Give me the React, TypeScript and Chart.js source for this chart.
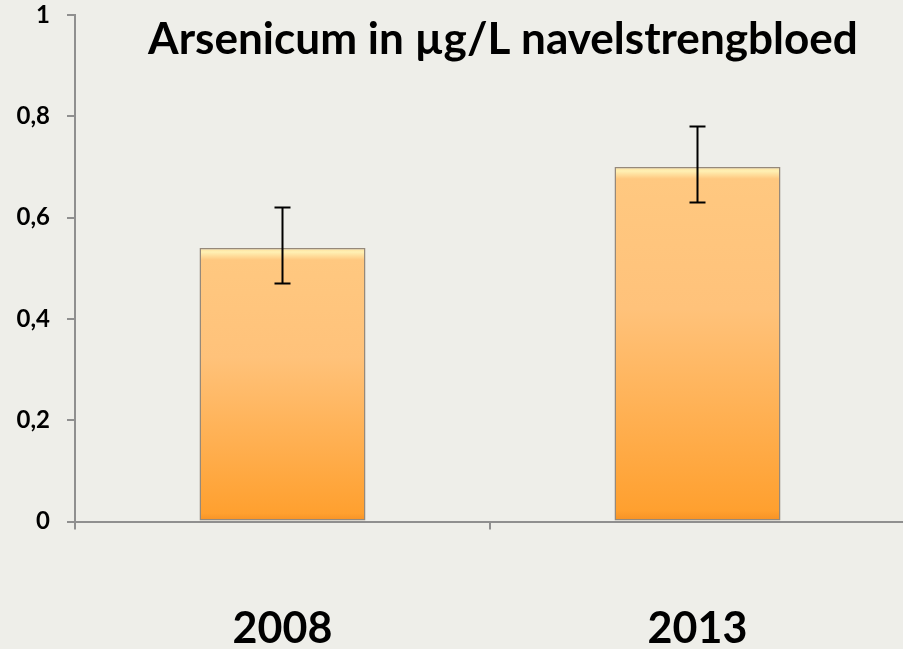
import React, { useEffect, useRef } from "react";
import { Chart, registerables } from "chart.js";

Chart.register(...registerables);

const categories = ["2008", "2013"];
const values = [0.54, 0.7];
const errLow = [0.47, 0.63];
const errHigh = [0.62, 0.78];
const yTickValues = [0, 0.2, 0.4, 0.6, 0.8, 1];
const yTickLabels = ["0", "0,2", "0,4", "0,6", "0,8", "1"];
const titleText = "Arsenicum in µg/L navelstrengbloed";

const AXIS_GRAY = "#8f8f8f";
const BG = "#eeeee9";

const titlePlugin = {
  id: "customTitle",
  afterDraw(chart: any) {
    const ctx = chart.ctx;
    ctx.save();
    const target = 710;
    ctx.font = "bold 40px Lato";
    const w = ctx.measureText(titleText).width;
    const size = (40 * target) / w;
    ctx.font = `bold ${size.toFixed(2)}px Lato`;
    ctx.fillStyle = "#000";
    ctx.textAlign = "center";
    ctx.textBaseline = "alphabetic";
    ctx.fillText(titleText, 503, 54);
    ctx.restore();
  },
};

const errorBarPlugin = {
  id: "errorBars",
  afterDatasetsDraw(chart: any) {
    const ctx = chart.ctx;
    const meta = chart.getDatasetMeta(0);
    const y = chart.scales.y;
    ctx.save();
    ctx.strokeStyle = "#000";
    ctx.lineWidth = 2;
    meta.data.forEach((bar: any, i: number) => {
      const x = bar.x;
      const yHi = y.getPixelForValue(errHigh[i]);
      const yLo = y.getPixelForValue(errLow[i]);
      const cap = 8;
      ctx.beginPath();
      ctx.moveTo(x, yHi);
      ctx.lineTo(x, yLo);
      ctx.moveTo(x - cap, yHi);
      ctx.lineTo(x + cap, yHi);
      ctx.moveTo(x - cap, yLo);
      ctx.lineTo(x + cap, yLo);
      ctx.stroke();
    });
    ctx.restore();
  },
};

export default function App() {
  const ref = useRef<HTMLCanvasElement | null>(null);

  useEffect(() => {
    if (!ref.current) return;
    const chart = new Chart(ref.current, {
      type: "bar",
      data: {
        labels: categories,
        datasets: [
          {
            data: values,
            backgroundColor: (c: any) => {
              const ch = c.chart;
              const ys = ch.scales && ch.scales.y;
              if (!ys || !ch.chartArea || c.raw == null) return "#ffb050";
              const top = ys.getPixelForValue(c.raw);
              const bottom = ys.getPixelForValue(0);
              const h = Math.max(bottom - top, 1);
              const g = ch.ctx.createLinearGradient(0, top, 0, bottom);
              g.addColorStop(0, "#ffdc96");
              g.addColorStop(Math.min(4 / h, 1), "#fff1b4");
              g.addColorStop(Math.min(12 / h, 1), "#ffc880");
              g.addColorStop(0.4, "#ffc27a");
              g.addColorStop(0.97, "#ffa02f");
              g.addColorStop(1, "#f59024");
              return g;
            },
            borderColor: "rgba(140,125,110,0.9)",
            borderWidth: 1.5,
            borderSkipped: false,
            barPercentage: 0.4,
            categoryPercentage: 1,
          },
        ],
      },
      options: {
        responsive: false,
        animation: false,
        devicePixelRatio: 1,
        layout: { padding: { top: 15, right: 5, left: 0, bottom: 0 } },
        plugins: {
          legend: { display: false },
          tooltip: { enabled: false },
          title: { display: false },
        },
        scales: {
          x: {
            offset: true,
            grid: {
              offset: true,
              drawOnChartArea: false,
              drawTicks: true,
              tickLength: 8,
              color: AXIS_GRAY,
              lineWidth: 2,
            },
            border: { display: true, color: AXIS_GRAY, width: 2 },
            ticks: {
              color: "#000",
              font: { family: "Lato", weight: "bold", size: 43 },
              padding: 74,
            },
            afterFit: (s: any) => {
              s.height = 649 - 521.5;
            },
          },
          y: {
            min: 0,
            max: 1,
            afterBuildTicks: (s: any) => {
              s.ticks = yTickValues.map((v) => ({ value: v }));
            },
            grid: {
              drawOnChartArea: false,
              drawTicks: true,
              tickLength: 8,
              color: AXIS_GRAY,
              lineWidth: 2,
            },
            border: { display: true, color: AXIS_GRAY, width: 2 },
            ticks: {
              color: "#000",
              font: { family: "Lato", weight: "bold", size: 24 },
              padding: 17,
              callback: (v: any) => {
                const i = yTickValues.findIndex((t) => Math.abs(t - Number(v)) < 1e-9);
                return i >= 0 ? yTickLabels[i] : "";
              },
            },
            afterFit: (s: any) => {
              s.width = 75;
              s.paddingTop = 0;
              s.paddingBottom = 0;
            },
          },
        },
      },
      plugins: [titlePlugin, errorBarPlugin],
    } as any);
    return () => chart.destroy();
  }, []);

  return (
    <div
      style={{
        position: "fixed",
        left: 0,
        top: 0,
        width: 903,
        height: 649,
        background: BG,
        overflow: "hidden",
      }}
    >
      <canvas ref={ref} width={910} height={649} style={{ display: "block" }} />
    </div>
  );
}
